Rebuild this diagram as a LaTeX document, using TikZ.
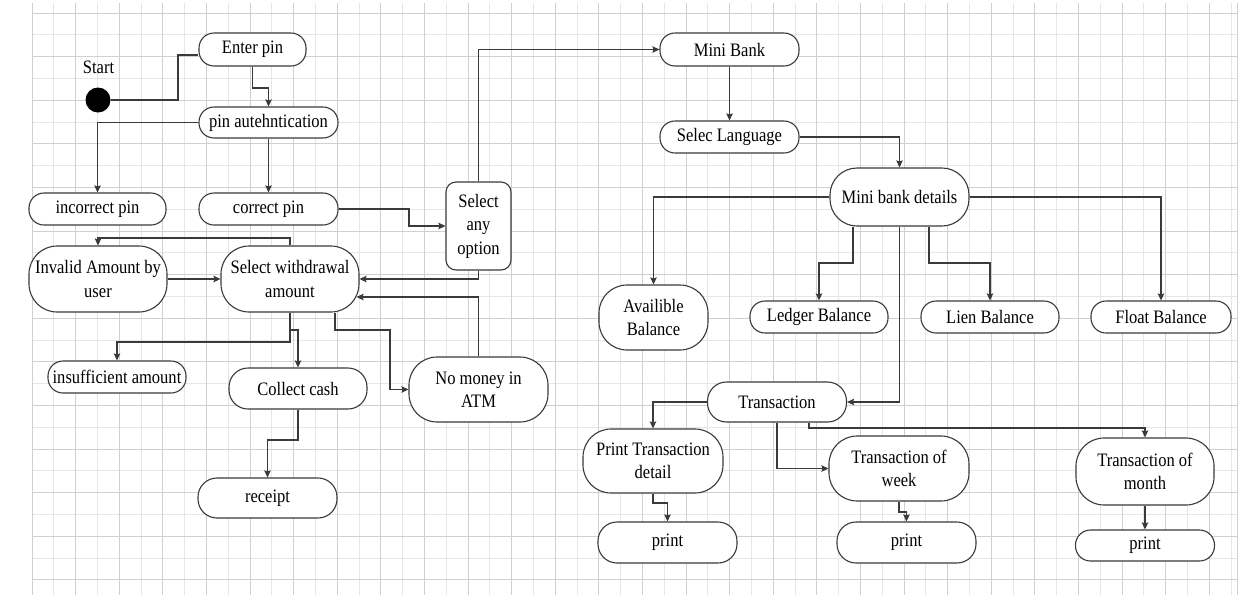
\documentclass[tikz,border=0pt]{standalone}
\usepackage{fontspec}
\setmainfont{Liberation Serif}[FakeStretch=0.87]
\usetikzlibrary{arrows.meta}
\definecolor{lc}{HTML}{3A3A3A}
\definecolor{gmaj}{HTML}{D0D0D0}
\definecolor{gmin}{HTML}{E6E6E6}
\begin{document}
\begin{tikzpicture}[x=1pt,y=-1pt,
  box/.style={draw=lc, line width=1.1pt, fill=white, rounded corners=#1, inner sep=0pt,
              align=center, font=\fontsize{19}{23.5}\selectfont},
  box/.default=15pt,
  arr/.style={draw=lc, line width=1.2pt, -{Stealth[length=7pt,width=6.5pt,inset=1pt]}},
  ln/.style={draw=lc, line width=1.2pt},
  lbl/.style={font=\fontsize{19}{23.5}\selectfont, inner sep=0pt}]
% background and grid
\fill[white] (0,0) rectangle (1248,598);
\useasboundingbox (0,0) rectangle (1248,598);
\foreach \k in {1,3,...,25} {\draw[gmin, line width=0.9pt] (32,{13+\k*21.8}) -- (1237,{13+\k*21.8});}
\foreach \m in {1,3,...,55} {\draw[gmin, line width=0.9pt] ({32+\m*21.8},3) -- ({32+\m*21.8},595);}
\foreach \k in {0,2,...,26} {\draw[gmaj, line width=0.9pt] (32,{13+\k*21.8}) -- (1237,{13+\k*21.8});}
\foreach \m in {0,2,...,54} {\draw[gmaj, line width=0.9pt] ({32+\m*21.8},3) -- ({32+\m*21.8},595);}
\draw[gmaj, line width=0.9pt] (1237,3) -- (1237,595);

% nodes
\node[lbl] (startlbl) at (98.5,67) {Start};
\node[circle, fill=black, minimum size=25pt, inner sep=0pt] (start) at (98,100) {};
\node[box, minimum width=107pt, minimum height=33pt] (enter) at (252.5,49.5) {Enter pin};
\node[box, minimum width=139pt, minimum height=31pt] (pinauth) at (268.5,122.5) {pin autehntication};
\node[box, minimum width=137pt, minimum height=32pt] (incorrect) at (97.5,209) {incorrect pin};
\node[box, minimum width=139pt, minimum height=32pt] (correct) at (268.5,209) {correct pin};
\node[box=10pt, minimum width=65pt, minimum height=88pt] (selany) at (478.5,226) {Select\\any\\option};
\node[box=28pt, minimum width=138pt, minimum height=66pt] (invalid) at (98,279) {Invalid Amount by\\user};
\node[box=28pt, minimum width=138pt, minimum height=66pt] (selwd) at (290,279) {Select withdrawal\\amount};
\node[box, minimum width=138pt, minimum height=32pt] (insuff) at (117,377) {insufficient amount};
\node[box=19pt, minimum width=138pt, minimum height=41pt] (collect) at (298,388.5) {Collect cash};
\node[box=28pt, minimum width=139pt, minimum height=65pt] (nomoney) at (478.5,389.5) {No money in\\ATM};
\node[box=19pt, minimum width=139pt, minimum height=40pt] (receipt) at (267.5,498) {receipt};
\node[box, minimum width=139pt, minimum height=33pt] (minibank) at (729.5,49.5) {Mini Bank};
\node[box, minimum width=139pt, minimum height=32pt] (lang) at (729.5,137) {Selec Language};
\node[box=27pt, minimum width=139pt, minimum height=58pt] (mbd) at (899.5,197) {Mini bank details};
\node[box=28pt, minimum width=109pt, minimum height=65pt] (avail) at (653.5,317.5) {Availible\\Balance};
\node[box, minimum width=138pt, minimum height=32pt] (ledger) at (819,317) {Ledger Balance};
\node[box, minimum width=138pt, minimum height=32pt] (lien) at (990,317) {Lien Balance};
\node[box, minimum width=140pt, minimum height=32pt] (float) at (1161,317) {Float Balance};
\node[box=19pt, minimum width=139pt, minimum height=40pt] (trans) at (777,402) {Transaction};
\node[box=28pt, minimum width=140pt, minimum height=64pt] (ptd) at (653,461) {Print Transaction\\detail};
\node[box=28pt, minimum width=140pt, minimum height=65pt] (week) at (899,468.5) {Transaction of\\week};
\node[box=28pt, minimum width=138pt, minimum height=67pt] (month) at (1145,471.5) {Transaction of\\month};
\node[box=19pt, minimum width=139pt, minimum height=41pt] (print1) at (667.5,542.5) {print};
\node[box=19pt, minimum width=139pt, minimum height=41pt] (print2) at (906.5,542.5) {print};
\node[box, minimum width=139pt, minimum height=31pt] (print3) at (1145,545.5) {print};

% connectors
\draw[ln] (start) -- (178,100) |- ([yshift=-5.5pt]enter.west);
\draw[arr] (enter.south) -- (252.5,88) -| (pinauth.north);
\draw[arr] (pinauth.west) -| (incorrect.north);
\draw[arr] (pinauth.south) -- (correct.north);
\draw[arr] (correct.east) -- (409,209) |- (selany.west);
\draw[arr] (selany.north) |- (minibank.west);
\draw[arr] (selany.south) |- (selwd.east);
\draw[arr] (selwd.north) -- (290,238) -| (invalid.north);
\draw[arr] (invalid.east) -- (selwd.west);
\draw[arr] (nomoney.north) |- ([xshift=-3pt,yshift=-18pt]selwd.east);
\draw[arr] (selwd.south) -- (290,342) -| (insuff.north);
\draw[arr] (selwd.south) -- (290,330) -| (collect.north);
\draw[arr] ([xshift=45pt]selwd.south) -- (335,330) -- (390,330) |- (nomoney.west);
\draw[arr] (collect.south) -- (298,440) -| (receipt.north);
\draw[arr] (minibank.south) -- (lang.north);
\draw[arr] (lang.east) -| (mbd.north);
\draw[arr] (mbd.west) -| (avail.north);
\draw[arr] ([xshift=-46.5pt]mbd.south) -- (853,263) -| (ledger.north);
\draw[arr] ([xshift=29.5pt]mbd.south) -- (929,263) -| (lien.north);
\draw[arr] (mbd.east) -| (float.north);
\draw[arr] (mbd.south) |- (trans.east);
\draw[arr] (trans.west) -| (ptd.north);
\draw[arr] (trans.south) |- (week.west);
\draw[arr] ([xshift=32pt]trans.south) -- (809,428) -| (month.north);
\draw[arr] (ptd.south) -- (653,503) -| (print1.north);
\draw[arr] (week.south) -- (899,512) -| (print2.north);
\draw[arr] (month.south) -- (print3.north);
\end{tikzpicture}
\end{document}
